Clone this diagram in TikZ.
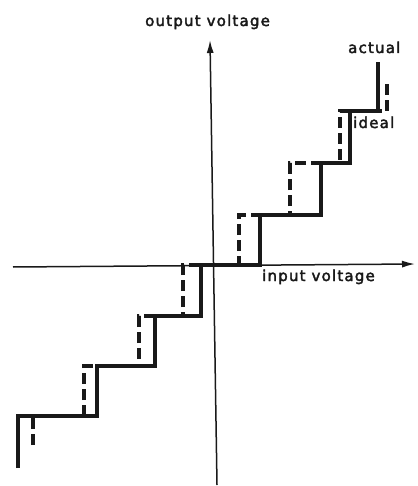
\documentclass[tikz,border=0pt]{standalone}
\usepackage{fontspec}
\newfontfamily\lblfont{DejaVu Sans}[LetterSpace=8,FakeBold=2.5]
\usetikzlibrary{arrows.meta}
\begin{document}
\begin{tikzpicture}[x=1pt,y=-1pt,
  axisline/.style={line width=1.5pt, draw=black!90, -{Latex[length=13pt,width=7pt]}},
  actualline/.style={line width=3.4pt, draw=black!90},
  idealline/.style={line width=3.4pt, draw=black!90, dash pattern=on 11pt off 5pt},
  lbl/.style={font=\lblfont\fontsize{15}{15}\selectfont, text=black!90, inner sep=0pt, anchor=base west}]
\useasboundingbox (0,0) rectangle (417,486);
% axes
\coordinate (ybot) at (217,485);
\coordinate (ytop) at (210,40);
\coordinate (xleft) at (13,267);
\coordinate (xright) at (415,264);
\draw[axisline] (ybot) -- (ytop);
\draw[axisline] (xleft) -- (xright);
% ideal staircase (dashed)
\draw[idealline] (33,445) -- (33,416) -- (84,416) -- (84,366) -- (139,366) -- (139,316)
  -- (183,316) -- (183,265) -- (239,265) -- (239,215) -- (290,215) -- (290,163)
  -- (340,163) -- (340,111) -- (387,111) -- (387,83);
% actual staircase (solid)
\draw[actualline] (18,468) -- (18,416) -- (97,416) -- (97,366) -- (155,366) -- (155,316)
  -- (201,316) -- (201,265) -- (260,265) -- (260,215) -- (321,215) -- (321,163)
  -- (350,163) -- (350,111) -- (378,111) -- (378,62);
% labels
\node[lbl] (outlbl) at (145,26) {output voltage};
\node[lbl] (inlbl) at (262,281) {input voltage};
\node[lbl] (actlbl) at (348,53) {actual};
\node[lbl] (idlbl) at (353,128) {ideal};
\end{tikzpicture}
\end{document}
